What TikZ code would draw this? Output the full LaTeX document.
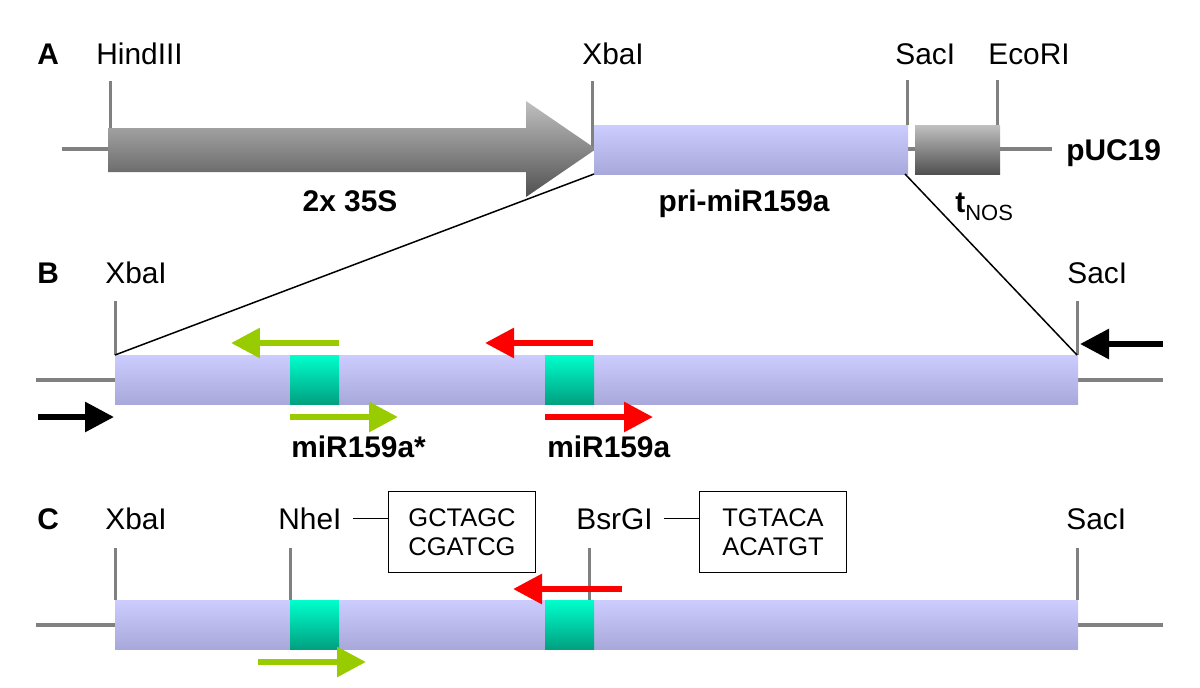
\documentclass[tikz,border=0pt]{standalone}
\usepackage{fontspec}
\setmainfont{Liberation Sans}
\usetikzlibrary{arrows.meta}
\definecolor{lavtop}{HTML}{CCCCFF}
\definecolor{lavbot}{HTML}{A8A8DA}
\definecolor{tealtop}{HTML}{00FFCC}
\definecolor{tealbot}{HTML}{00A080}
\definecolor{greytop}{HTML}{C0C0C0}
\definecolor{greybot}{HTML}{505050}
\definecolor{tickgray}{HTML}{808080}
\definecolor{mirgreen}{HTML}{99CC00}
\definecolor{mirred}{HTML}{FF0000}
\newcommand{\sitefont}{\fontsize{17}{20}\selectfont}
\newcommand{\seqfont}{\fontsize{14.5}{16.5}\selectfont}

\begin{document}
\begin{tikzpicture}[x=0.02cm,y=-0.02cm,
    site/.style={anchor=base west,inner sep=0pt,font=\sitefont},
    title/.style={anchor=base,inner sep=0pt,font=\sitefont\bfseries},
    cut/.style={draw=tickgray,line width=0.06cm},
    backbone/.style={draw=tickgray,line width=0.08cm},
    lavfill/.style={top color=lavtop,bottom color=lavbot},
    tealfill/.style={top color=tealtop,bottom color=tealbot},
    greyfill/.style={top color=greytop,bottom color=greybot},
    primer/.style={line width=0.12cm,-{Triangle[length=0.58cm,width=0.58cm]}},
    seqbox/.style={draw,line width=0.03cm,align=center,font=\seqfont,
                   minimum width=2.95cm,minimum height=1.62cm,inner sep=0pt},
    seqline/.style={line width=0.03cm,shorten <=0.22cm}]
  \useasboundingbox (0,0) rectangle (1200,687);

  % A: pUC19 construct
  \node[site,font=\sitefont\bfseries] (pA) at (37,64) {A};
  \node[site] (hindA) at (96,64) {HindIII};
  \node[site] (xbaA) at (582,64) {XbaI};
  \node[site] (sacA) at (895,64) {SacI};
  \node[site] (ecoA) at (988,64) {EcoRI};
  \draw[backbone] (62,149) -- (1052,149);
  \draw[cut] (110,81) -- (110,128);
  \draw[cut] (592,81) -- (592,148);
  \draw[cut] (907,80) -- (907,125);
  \draw[cut] (997,80) -- (997,125);
  \shade[greyfill] (108,128) -- (526,128) -- (526,101) -- (596,149)
        -- (526,197) -- (526,172) -- (108,172) -- cycle;
  \shade[lavfill] (594,125) rectangle (908,174);
  \shade[greyfill] (915,125) rectangle (1000,174);
  \coordinate (priL) at (594,174);
  \coordinate (priR) at (905,174);
  \node[title] (s35) at (350,211) {2x 35S};
  \node[title] (pri) at (744,211) {pri-miR159a};
  \node[site] (tnos) at (955,212) {{\bfseries t}\raisebox{-0.16cm}{\fontsize{12.5}{12.5}\selectfont NOS}};
  \node[site,font=\sitefont\bfseries] (puc) at (1066,160) {pUC19};

  % B: primers on pri-miR159a
  \node[site,font=\sitefont\bfseries] (pB) at (37,283) {B};
  \node[site] (xbaB) at (105,283) {XbaI};
  \node[site] (sacB) at (1067,283) {SacI};
  \draw[backbone] (36,380) -- (1163,380);
  \draw[cut] (115,301) -- (115,355);
  \draw[cut] (1077,301) -- (1077,355);
  \shade[lavfill] (115,355) rectangle (1078,404);
  \shade[tealfill] (290,355) rectangle (339,404);
  \shade[tealfill] (545,355) rectangle (594,404);
  \coordinate (barBL) at (115,355);
  \coordinate (barBR) at (1077,355);
  \draw[line width=0.03cm] (priL) -- (barBL);
  \draw[line width=0.03cm] (priR) -- (barBR);
  \draw[primer,mirgreen] (339,343) -- (231,343);
  \draw[primer,mirgreen] (290,417) -- (398,417);
  \draw[primer,mirred] (593,343) -- (485,343);
  \draw[primer,mirred] (545,417) -- (653,417);
  \draw[primer,black] (1163,344) -- (1080,344);
  \draw[primer,black] (38,417) -- (114,417);
  \node[site,font=\sitefont\bfseries] (star) at (291,457) {miR159a*};
  \node[site,font=\sitefont\bfseries] (mir) at (547,457) {miR159a};

  % C: new restriction sites
  \node[site,font=\sitefont\bfseries] (pC) at (37,529) {C};
  \node[site] (xbaC) at (105,529) {XbaI};
  \node[site] (nhe) at (278,529) {NheI};
  \node[site] (bsr) at (576,529) {BsrGI};
  \node[site] (sacC) at (1066,529) {SacI};
  \node[seqbox] (seq1) at (462,532) {GCTAGC\\CGATCG};
  \node[seqbox] (seq2) at (773,532) {TGTACA\\ACATGT};
  \draw[seqline] (nhe.east) -- (nhe.east -| seq1.west);
  \draw[seqline] (bsr.east) -- (bsr.east -| seq2.west);
  \draw[backbone] (36,625) -- (1163,625);
  \foreach \x in {115,290,589,1077}
    \draw[cut] (\x,548) -- (\x,600);
  \shade[lavfill] (115,600) rectangle (1078,649);
  \shade[tealfill] (290,600) rectangle (339,649);
  \shade[tealfill] (545,600) rectangle (594,649);
  \draw[primer,mirred] (622,589) -- (513,589);
  \draw[primer,mirgreen] (258,662) -- (366,662);
\end{tikzpicture}
\end{document}
